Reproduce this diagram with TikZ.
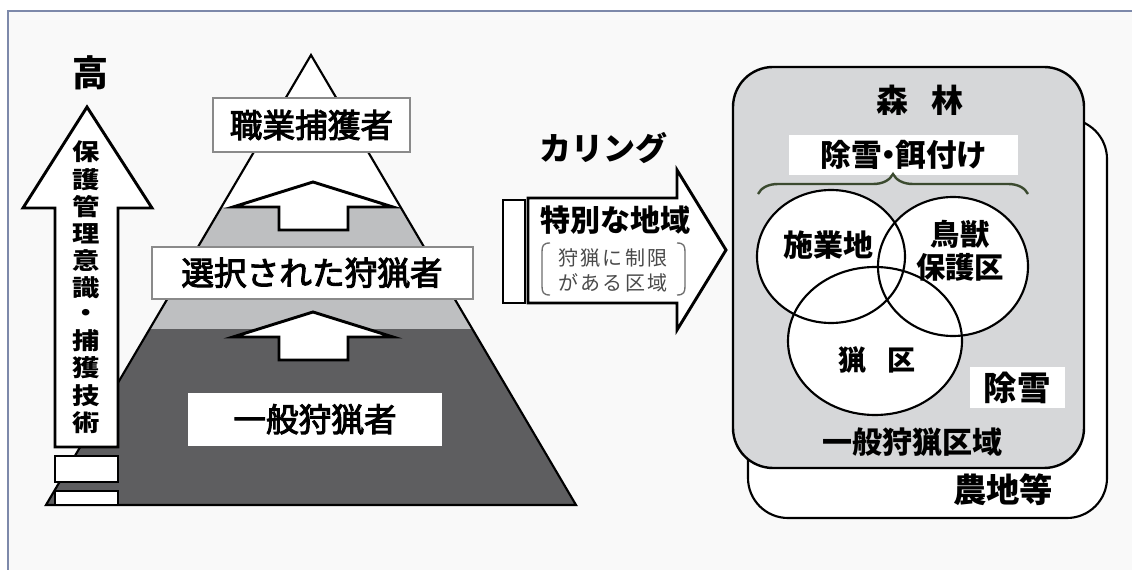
\documentclass[tikz,border=0pt]{standalone}
\usepackage{fontspec}
\newfontfamily\jp{Noto Sans CJK JP}
\newfontfamily\jpmed[FakeBold=3]{Noto Sans CJK JP}
\newfontfamily\jpl[LetterSpace=12]{Noto Sans CJK JP}
\usetikzlibrary{decorations.pathreplacing}
\definecolor{bg}{HTML}{F9F9F9}
\definecolor{frameblue}{HTML}{7D89AA}
\definecolor{darkband}{HTML}{5E5E60}
\definecolor{lightband}{HTML}{BEBFC1}
\definecolor{forest}{HTML}{D6D7D9}
\definecolor{bracecol}{HTML}{3B4A2F}
\definecolor{boxline}{HTML}{8A8A8A}
\definecolor{subtext}{HTML}{4A4A4A}
\begin{document}
\begin{tikzpicture}[x=0.75pt,y=-0.75pt,
  outl/.style={draw=black,line width=1.6pt,line join=miter},
  blk/.style={draw=black,fill=white,line width=2.2pt,line join=miter},
  lbl/.style={inner sep=0pt,text=black},
  jpm/.style={lbl,font=\jpmed\fontsize{24.5}{26}\selectfont},
  jpb/.style={lbl,font=\jp\bfseries\fontsize{#1}{#1}\selectfont},
  wbox/.style={draw=boxline,fill=white,line width=0.9pt},
  circ/.style={draw=black,line width=1.6pt},
  bracket/.style={draw=subtext!80,line width=1pt}]
\useasboundingbox (0,0) rectangle (1132,570);
% page
\fill[white] (0,0) rectangle (1132,570);
\fill[bg] (8,11) rectangle (1132,570);
\draw[frameblue,line width=1pt] (8,570) -- (8,11) -- (1132,11);

% ---------- pyramid ----------
\begin{scope}
  \clip (311,55) -- (576,505) -- (46,505) -- cycle;
  \fill[white] (0,40) rectangle (600,207);
  \fill[lightband] (0,207) rectangle (600,329);
  \fill[darkband] (0,329) rectangle (600,506);
\end{scope}
\draw[outl] (311,55) -- (576,505) -- (46,505) -- cycle;

% up arrows inside pyramid
\draw[blk] (313,182) -- (393,207) -- (348,207) -- (348,230) -- (279,230) -- (279,207) -- (233,207) -- cycle;
\draw[blk] (313,312) -- (393,337) -- (348,337) -- (348,360) -- (279,360) -- (279,337) -- (233,337) -- cycle;

% level boxes
\draw[wbox] (213,98) rectangle (410,152);
\node[jpm] (top) at (311.5,125) {職業捕獲者};
\draw[wbox] (152,247) rectangle (473,299);
\node[jpm] (mid) at (312,273) {選択された狩猟者};
\fill[white] (188,393) rectangle (442,446);
\node[jpm] (low) at (315,419.5) {一般狩猟者};

% left big arrow
\draw[blk] (87,107) -- (152,208) -- (118,208) -- (118,447) -- (55,447) -- (55,208) -- (23,208) -- cycle;
\draw[blk] (55,456) rectangle (118,482);
\draw[blk] (55,491) rectangle (118,505);
\node[jpb=27] (high) at (90,73) {高};
\node[lbl,font=\jp\bfseries\fontsize{20.5}{22}\selectfont] (awareness) at (86.5,290)
  {\scalebox{1}[0.85]{\begin{tabular}{@{}c@{}}保\\護\\管\\理\\意\\識\\・\\捕\\獲\\技\\術\end{tabular}}};

% ---------- culling arrow ----------
\node[jpb=24] (culling) at (603,148) {カリング};
\draw[blk] (503,200) rectangle (525,303);
\draw[blk] (528,198) -- (677,198) -- (677,170) -- (726,250) -- (677,330) -- (677,303) -- (528,303) -- cycle;
\node[jpb=22.5] (special) at (615,220) {特別な地域};
\draw[bracket] (550,243) .. controls (543,243) and (542,246) .. (542,252) -- (542,286) .. controls (542,292) and (543,295) .. (550,295);
\draw[bracket] (677,243) .. controls (684,243) and (685,246) .. (685,252) -- (685,286) .. controls (685,292) and (684,295) .. (677,295);
\node[lbl,text=subtext,font=\jpl\fontsize{15}{15}\selectfont] (restr1) at (613,258) {狩猟に制限};
\node[lbl,text=subtext,font=\jpl\fontsize{15}{15}\selectfont] (restr2) at (613,283) {がある区域};

% ---------- right region ----------
\draw[fill=white,draw=black,line width=1.6pt,rounded corners=30pt] (748,119) rectangle (1107,518);
\draw[fill=forest,draw=black,line width=1.8pt,rounded corners=30pt] (733,67) rectangle (1084,468);
\node[jpb=24] (forestlbl) at (920,100) {森\hspace{0.7em}林};
\fill[white] (789,135) rectangle (1018,175);
\node[jpb=23] (snowbait) at (904,155) {除雪\kern-0.28em・\kern-0.28em餌付け};
\draw[bracecol,line width=1.8pt,decorate,decoration={brace,amplitude=15pt}] (758,194) -- (1028,194);

% ellipses
\fill[white] (831,256.5) ellipse[x radius=74,y radius=66.5];
\fill[white] (953,266.5) ellipse[x radius=75,y radius=69.5];
\fill[white] (875,341) ellipse[x radius=87,y radius=74];
\draw[circ] (831,256.5) ellipse[x radius=74,y radius=66.5];
\draw[circ] (953,266.5) ellipse[x radius=75,y radius=69.5];
\draw[circ] (875,341) ellipse[x radius=87,y radius=74];
\node[jpb=22.5] (work) at (828,245) {施業地};
\node[lbl,align=center,font=\jp\bfseries\fontsize{22}{25}\selectfont] (sanct) at (960,251) {鳥獣\\保護区};
\node[jpb=21] (huntzone) at (877,360) {猟\hspace{0.75em}区};

\fill[white] (970,367) rectangle (1065,408);
\node[jpb=25] (snow) at (1017,388) {除雪};
\node[jpb=22.5] (general) at (912,442) {一般狩猟区域};
\node[jpb=25] (farm) at (1003,490) {農地等};
\end{tikzpicture}
\end{document}
